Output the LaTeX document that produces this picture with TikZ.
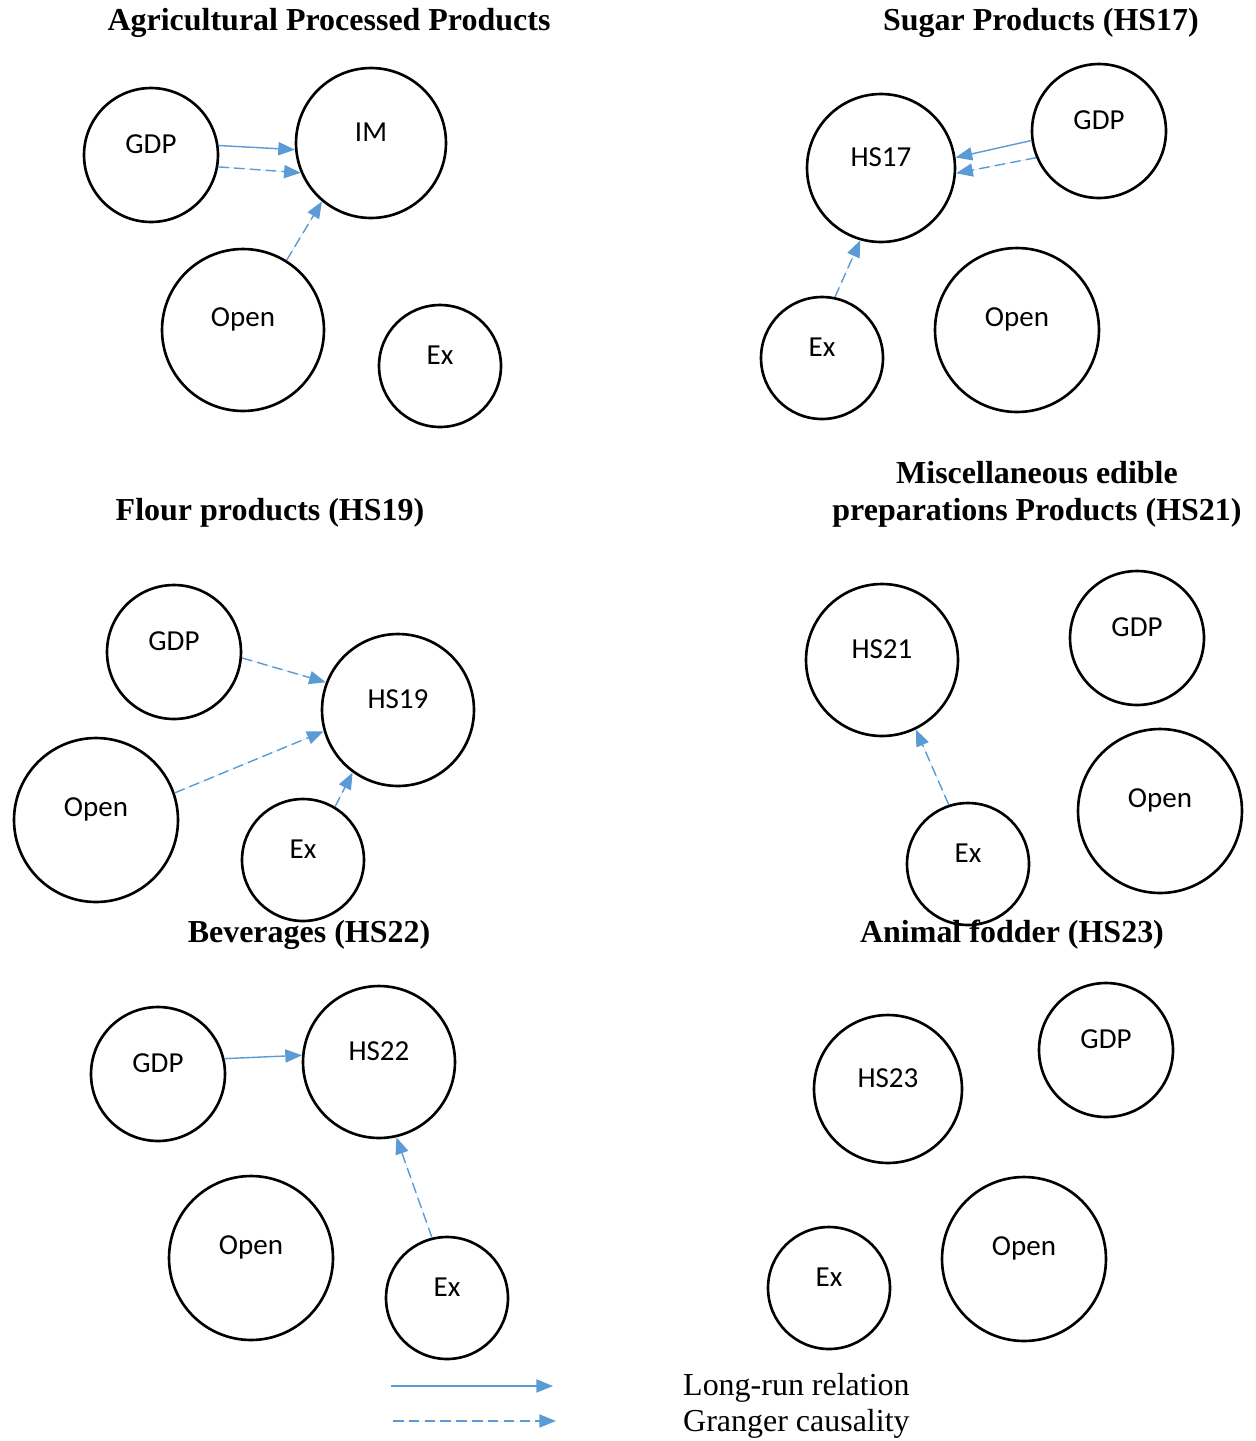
\documentclass[tikz,border=0pt]{standalone}
\usepackage{fontspec}
\setmainfont{Liberation Serif}
\newfontfamily\calibri{Carlito}
\usetikzlibrary{arrows.meta}
\definecolor{setaazul}{HTML}{5B9BD5}
\tikzset{
  varcirc/.style={circle, draw=black, line width=1.5pt, inner sep=0pt, minimum size=#1*0.4mm},
  varlab/.style={font=\calibri\fontsize{16.5}{19}\selectfont, yshift=2.2mm},
  titulo/.style={font=\fontsize{18.2}{21}\selectfont\bfseries, align=center},
  legenda/.style={font=\fontsize{18.2}{21}\selectfont, anchor=west},
  longrun/.style={-{Triangle[length=9.5pt, width=7.5pt]}, line width=0.8pt, draw=setaazul, fill=setaazul},
  granger/.style={longrun, dash pattern=on 6pt off 3pt},
}

\begin{document}
\begin{tikzpicture}[x=0.02cm, y=-0.02cm]
        \useasboundingbox (0,0) rectangle (1256,1441);
        % titles
        \node[titulo] (t1) at (329,23) {Agricultural Processed Products};
        \node[titulo] (t2) at (1041,23) {Sugar Products (HS17)};
        \node[titulo] (t3) at (270,513) {Flour products (HS19)};
        \node[titulo] (t4) at (1037,494) {Miscellaneous edible\\ preparations Products (HS21)};
        \node[titulo] (t5) at (309,935) {Beverages (HS22)};
        \node[titulo] (t6) at (1012,935) {Animal fodder (HS23)};
        % agricultural processed products
        \node[varcirc=67, label={[varlab]center:GDP}] (gdpA) at (151,155) {};
        \node[varcirc=75, label={[varlab]center:IM}] (imA) at (371,143) {};
        \node[varcirc=81, label={[varlab]center:Open}] (openA) at (243,330) {};
        \node[varcirc=61, label={[varlab]center:Ex}] (exA) at (440,366) {};
        \draw[longrun] (gdpA.8) -- (imA.185);
        \draw[granger] (gdpA.-10) -- (imA.203);
        \draw[granger] (openA.58) -- (imA.230);
        % HS17
        \node[varcirc=74, label={[varlab]center:HS17}] (hsB) at (881,168) {};
        \node[varcirc=67, label={[varlab]center:GDP}] (gdpB) at (1099,131) {};
        \node[varcirc=61, label={[varlab]center:Ex}] (exB) at (822,358) {};
        \node[varcirc=82, label={[varlab]center:Open}] (openB) at (1017,330) {};
        \draw[longrun] (gdpB.188) -- (hsB.8);
        \draw[granger] (gdpB.203) -- (hsB.-4);
        \draw[granger] (exB.78) -- (hsB.254);
        % HS19
        \node[varcirc=67, label={[varlab]center:GDP}] (gdpC) at (174,652) {};
        \node[varcirc=76, label={[varlab]center:HS19}] (hsC) at (398,710) {};
        \node[varcirc=82, label={[varlab]center:Open}] (openC) at (96,820) {};
        \node[varcirc=61, label={[varlab]center:Ex}] (exC) at (303,860) {};
        \draw[granger] (gdpC.-5) -- (hsC.159);
        \draw[granger] (openC.19) -- (hsC.196);
        \draw[granger] (exC.59) -- (hsC.234);
        % HS21
        \node[varcirc=76, label={[varlab]center:HS21}] (hsD) at (882,660) {};
        \node[varcirc=67, label={[varlab]center:GDP}] (gdpD) at (1137,638) {};
        \node[varcirc=82, label={[varlab]center:Open}] (openD) at (1160,811) {};
        \node[varcirc=61, label={[varlab]center:Ex}] (exD) at (968,864) {};
        \draw[granger] (exD.108) -- (hsD.296);
        % HS22
        \node[varcirc=67, label={[varlab]center:GDP}] (gdpE) at (158,1074) {};
        \node[varcirc=76, label={[varlab]center:HS22}] (hsE) at (379,1062) {};
        \node[varcirc=82, label={[varlab]center:Open}] (openE) at (251,1258) {};
        \node[varcirc=61, label={[varlab]center:Ex}] (exE) at (447,1298) {};
        \draw[longrun] (gdpE.13) -- (hsE.175);
        \draw[granger] (exE.104) -- (hsE.283);
        % HS23
        \node[varcirc=74, label={[varlab]center:HS23}] (hsF) at (888,1089) {};
        \node[varcirc=67, label={[varlab]center:GDP}] (gdpF) at (1106,1050) {};
        \node[varcirc=61, label={[varlab]center:Ex}] (exF) at (829,1288) {};
        \node[varcirc=82, label={[varlab]center:Open}] (openF) at (1024,1259) {};
        % legend
        \coordinate (l1a) at (391,1386);
        \coordinate (l1b) at (553,1386);
        \coordinate (l2a) at (393,1421);
        \coordinate (l2b) at (556,1421);
        \draw[longrun] (l1a) -- (l1b);
        \draw[granger] (l2a) -- (l2b);
        \node[legenda] (leg1) at (677,1388) {Long-run relation};
        \node[legenda] (leg2) at (677,1424) {Granger causality};
    \end{tikzpicture}
\end{document}
